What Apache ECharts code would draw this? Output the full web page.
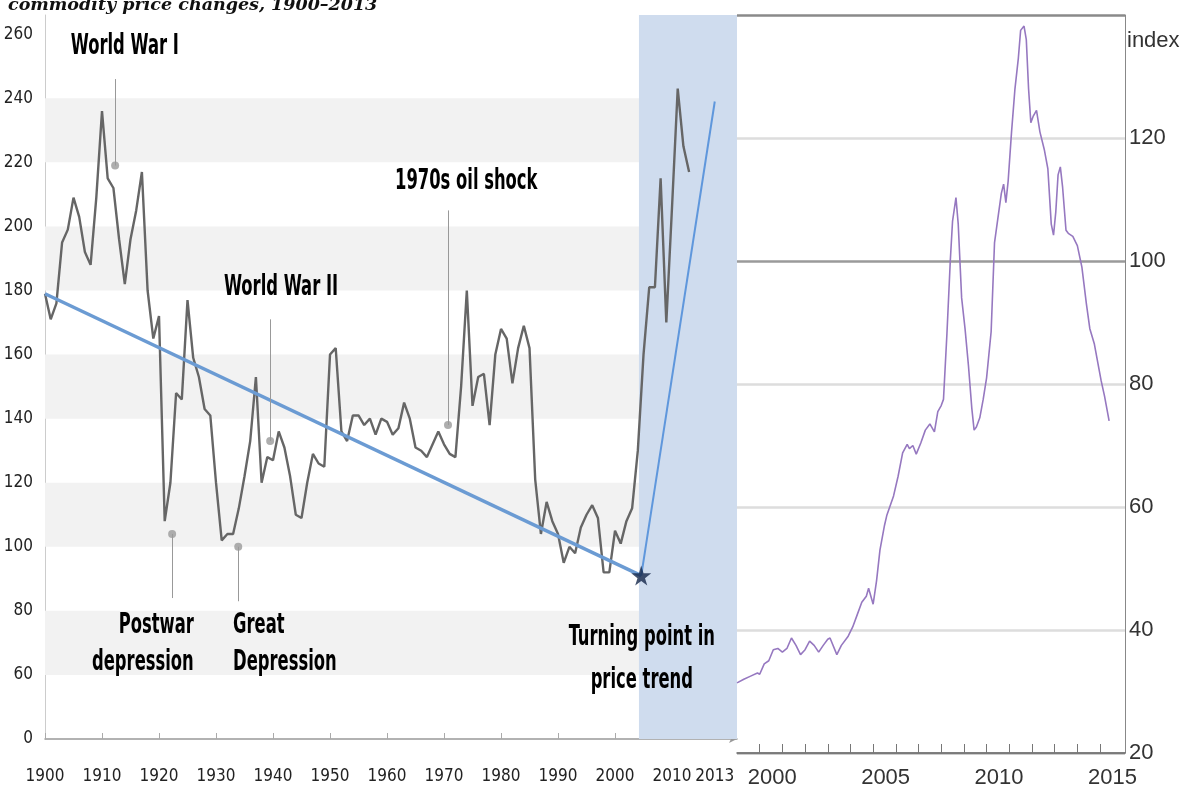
<!DOCTYPE html>
<html>
<head>
<meta charset="utf-8">
<script src="https://cdn.jsdelivr.net/npm/echarts@6/dist/echarts.min.js"></script>
<style>
html,body{margin:0;padding:0;background:#fff;}
#chart{width:1192px;height:806px;}
</style>
</head>
<body>
<div id="chart"></div>
<script>
// ---- Left panel: commodity price index, annual 1900-2013 ----
const leftYears = [];
for (let y = 1900; y <= 2013; y++) leftYears.push(y);
const leftValues = [
  179,171,176,195,199,209,203,192,188,209, // 1900s
  236,215,212,196,182,196,205,217,180,165, // 1910s
  172,108,120,148,146,177,159,153,143,141, // 1920s
  120,102,104,104,112,122,133,153,120,128, // 1930s
  127,136,131,122,110,109,120,129,126,125, // 1940s
  160,162,136,133,141,141,138,140,135,140, // 1950s
  139,135,137,145,140,131,130,128,132,136, // 1960s
  132,129,128,150,180,144,153,154,138,160, // 1970s
  168,165,151,162,169,162,121,104,114,108, // 1980s
  104,95,100,98,106,110,113,109,92,92,     // 1990s
  105,101,108,112,130,160,181,181,215,170, // 2000s
  206,243,225,217                          // 2010-2013
];
// trend line (long-run decline, turning point, then rise)
const trendDownYears = [1900, 2004.6];
const trendDownValues = [179, 91];
const trendUpYears = [2004.6, 2017.5];
const trendUpValues = [91, 239];
const turningPoint = [2004.6, 91];
// highlighted period (shaded)
const shadeStart = 2004.2;
// light horizontal bands
const bands = [[60,80],[100,120],[140,160],[180,200],[220,240]];
const leftTickYears = [1900,1910,1920,1930,1940,1950,1960,1970,1980,1990,2000,2010];
const leftTickLabels = ['1900','1910','1920','1930','1940','1950','1960','1970','1980','1990','2000','2010','2013'];
// annotation dots [year, value] and leader line tips
const annoDots = [[1912.3,219],[1922.3,104],[1933.9,100],[1939.5,133],[1970.7,138]];
const annoLeaderEnds = [[1912.3,246],[1922.3,84],[1933.9,83],[1939.5,171],[1970.7,205]];
// annotation texts
const annoTexts = ['World War I','World War II','1970s oil shock','Postwar\ndepression','Great\nDepression','Turning point in\nprice trend'];

// ---- Right panel: monthly index, 1999-2015 ----
const rightX = [1999.0,1999.3,1999.6,1999.9,2000.0,2000.2,2000.4,2000.6,2000.8,2001.0,2001.2,2001.4,2001.6,2001.8,2002.0,2002.2,2002.4,2002.6,2002.8,2003.0,2003.1,2003.4,2003.6,2003.9,2004.1,2004.3,2004.5,2004.7,2004.8,2005.0,2005.15,2005.3,2005.5,2005.6,2005.9,2006.1,2006.3,2006.5,2006.6,2006.75,2006.9,2007.1,2007.3,2007.5,2007.7,2007.85,2008.0,2008.1,2008.25,2008.4,2008.5,2008.65,2008.75,2008.9,2009.05,2009.2,2009.35,2009.45,2009.55,2009.7,2009.85,2010.0,2010.2,2010.35,2010.5,2010.65,2010.75,2010.85,2010.95,2011.1,2011.25,2011.4,2011.5,2011.65,2011.75,2011.85,2011.95,2012.05,2012.2,2012.35,2012.55,2012.7,2012.85,2012.95,2013.05,2013.15,2013.25,2013.35,2013.5,2013.6,2013.8,2014.0,2014.2,2014.4,2014.55,2014.75,2014.95,2015.05,2015.2,2015.4];
const rightY = [31.4,32,32.5,33,32.8,34.5,35,36.8,37,36.4,37,38.7,37.5,36,36.8,38.2,37.5,36.4,37.5,38.5,38.7,36,37.5,39,40.5,42.5,44.5,45.5,46.8,44.2,48,53,57,58.6,61.8,65,68.8,70.2,69.5,70,68.6,70.4,72.5,73.5,72.2,75.5,76.5,77.5,88,100,106.5,110.3,106,94,89,83,76,72.5,73,74.5,77.5,81,88.5,103,107,111,112.5,109.5,113,121,128,133,137.5,138.2,136,128,122.5,123.5,124.5,121,118,115,106,104.2,108,114,115.3,112,105,104.5,104,102.5,99,93,89,86.5,82.5,80.5,78,74];
const rightTickYears = [2000,2001,2002,2003,2004,2005,2006,2007,2008,2009,2010,2011,2012,2013,2014,2015];
const rightLabelYears = [2000,2005,2010,2015];

const COND = "'DejaVu Sans Condensed','Liberation Sans Narrow',sans-serif";
const SANS = "'Liberation Sans',Arial,sans-serif";

const chart = echarts.init(document.getElementById('chart'), null, {renderer:'canvas'});
const starPath = 'path://M50,0 L61,35 L98,35 L68,57 L79,91 L50,70 L21,91 L32,57 L2,35 L39,35 Z';

// x positions for the left axis labels: decades plus the end label ("2013" sits past the axis break)
const leftLabelPositions = leftTickYears.concat([2017.5]);

const option = {
  animation: false,
  backgroundColor: '#fff',
  title: {
    text: 'commodity price changes, 1900–2013',
    left: 3, top: -9,
    textStyle: {fontFamily:"'DejaVu Serif',serif", fontStyle:'italic', fontWeight:'bold', fontSize:17.5, color:'#111'}
  },
  grid: [
    {left:45, right:455, top:15, bottom:67},
    {left:737, right:67, top:15, bottom:53}
  ],
  xAxis: [
    {
      type:'value', gridIndex:0, min:1900, max:2021.4,
      splitLine:{show:false},
      axisLine:{show:true, lineStyle:{color:'#999', width:1.5}, symbol:['none','arrow'], symbolSize:[6,8]},
      axisTick:{show:true, inside:true, length:6, lineStyle:{color:'#aaa'}, customValues: leftTickYears},
      axisLabel:{
        customValues: leftLabelPositions,
        showMaxLabel:true, showMinLabel:true, hideOverlap:false,
        formatter: v => leftTickLabels[leftLabelPositions.indexOf(v)] || '',
        fontFamily: COND, fontSize:17, color:'#222', margin:29
      }
    },
    {
      type:'value', gridIndex:1, min:1999, max:2016.1,
      splitLine:{show:false},
      axisLine:{show:true, lineStyle:{color:'#666', width:1.5}},
      axisTick:{show:true, inside:true, length:9, lineStyle:{color:'#777'}, customValues: rightTickYears},
      axisLabel:{
        customValues: rightLabelYears.map(y => y + 0.55),
        formatter: v => String(Math.floor(v)),
        fontFamily: SANS, fontSize:22, color:'#333', margin:14
      }
    }
  ],
  yAxis: [
    {
      type:'value', gridIndex:0, min:40, max:266, interval:20,
      splitLine:{show:false}, splitArea:{show:false},
      axisLine:{show:true, lineStyle:{color:'#ccc'}},
      axisTick:{show:false},
      axisLabel:{
        formatter: v => (v === 40 ? '0' : (v % 20 === 0 ? String(v) : '')),
        fontFamily: COND, fontSize:17, color:'#222', margin:12
      }
    },
    {
      type:'value', gridIndex:1, position:'right', min:20, max:140, interval:20,
      name:'index', nameLocation:'end', nameGap:-15,
      nameTextStyle:{fontFamily:SANS, fontSize:22, color:'#333', align:'left', verticalAlign:'top', padding:[0,0,0,2]},
      splitLine:{show:true, lineStyle:{color:['#bbb','#ddd','#ddd','#ddd','#9a9a9a','#ddd','#8a8a8a'], width:2.5}},
      axisLine:{show:true, onZero:false, lineStyle:{color:'#888', width:1}},
      axisTick:{show:false},
      axisLabel:{
        formatter: v => (v >= 140 ? '' : String(v)),
        fontFamily: SANS, fontSize:22, color:'#333', margin:4
      }
    }
  ],
  series: [
    {
      name:'backgrounds', type:'line', xAxisIndex:0, yAxisIndex:0, data:[], silent:true,
      markArea:{
        silent:true,
        data: bands.map(b => [{yAxis:b[0], itemStyle:{color:'#f2f2f2'}}, {yAxis:b[1]}])
          .concat([[{xAxis:shadeStart, yAxis:40, itemStyle:{color:'#cfdcee'}}, {xAxis:2021.4, yAxis:266}]])
      }
    },
    {
      name:'Commodity prices', type:'line', xAxisIndex:0, yAxisIndex:0,
      data: leftYears.map((y,i) => [y, leftValues[i]]),
      showSymbol:false, symbol:'none', z:3,
      lineStyle:{color:'#666', width:2.4}
    },
    {
      name:'Trend down', type:'line', xAxisIndex:0, yAxisIndex:0,
      data: trendDownYears.map((y,i) => [y, trendDownValues[i]]),
      symbol:'none', z:4,
      lineStyle:{color:'#6b9bd3', width:3.5}
    },
    {
      name:'Trend up', type:'line', xAxisIndex:0, yAxisIndex:0,
      data: trendUpYears.map((y,i) => [y, trendUpValues[i]]),
      symbol:'none', z:4,
      lineStyle:{color:'#5f97dc', width:2}
    },
    {
      name:'Turning point', type:'scatter', xAxisIndex:0, yAxisIndex:0,
      data:[turningPoint], symbol: starPath, symbolSize:20, z:6,
      itemStyle:{color:'#14274a'}
    },
    {
      name:'Annotation dots', type:'scatter', xAxisIndex:0, yAxisIndex:0,
      data: annoDots, symbolSize:8, z:5,
      itemStyle:{color:'#9a9a9a'},
      markLine:{
        silent:true, symbol:['none','none'], label:{show:false},
        lineStyle:{color:'#999', width:1, type:'solid'},
        data: annoDots.map((d,i) => [{coord:d}, {coord:annoLeaderEnds[i]}])
      }
    },
    {
      name:'Index', type:'line', xAxisIndex:1, yAxisIndex:1,
      data: rightX.map((x,i) => [x, rightY[i]]),
      symbol:'none',
      lineStyle:{color:'#9678c0', width:1.6}
    }
  ]
};
chart.setOption(option);

// Annotation labels: placed in data space, converted through the chart's own scales,
// and drawn with a compressed bold face (horizontal squeeze) like the original lettering.
const annoPlacement = [
  {at:[1914.0, 256], align:'center', lh:37},
  {at:[1941.4, 181], align:'center', lh:37},
  {at:[1973.9, 214], align:'center', lh:37},
  {at:[1926.1, 69.5], align:'right', lh:37},
  {at:[1933.0, 69.5], align:'left', lh:37},
  {at:[2004.7, 65], align:'center', lh:43}
];
chart.setOption({
  graphic: annoTexts.map((t, i) => {
    const p = chart.convertToPixel({gridIndex:0}, annoPlacement[i].at);
    return {
      type:'text', x:p[0], y:p[1], scaleX:0.65, z:100, silent:true,
      style:{
        text:t, fill:'#000',
        font:"bold 28px 'DejaVu Sans Condensed', sans-serif",
        align:annoPlacement[i].align, textAlign:annoPlacement[i].align,
        verticalAlign:'middle', textVerticalAlign:'middle',
        lineHeight:annoPlacement[i].lh
      }
    };
  })
});
</script>
</body>
</html>
